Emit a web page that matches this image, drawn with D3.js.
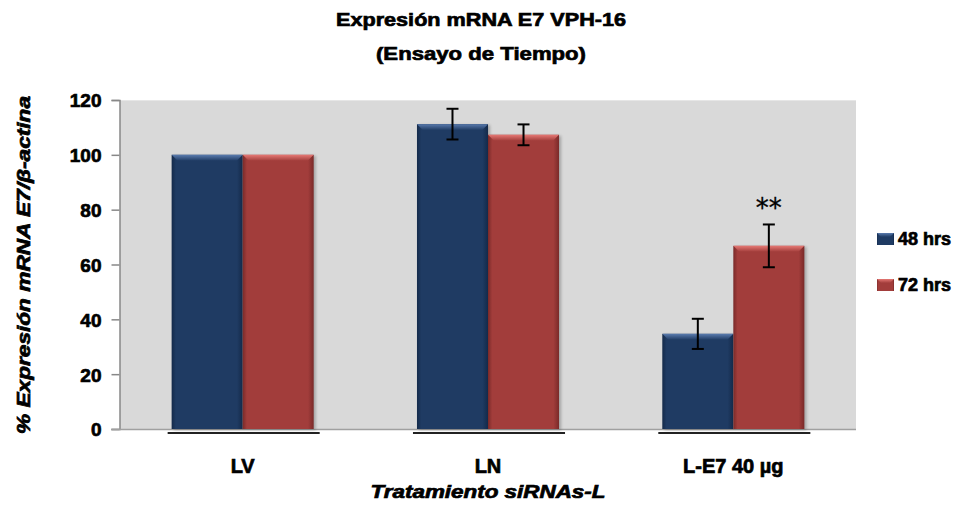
<!DOCTYPE html>
<html><head><meta charset="utf-8">
<script src="https://cdn.jsdelivr.net/npm/d3@7"></script>
<style>html,body{margin:0;padding:0;background:#fff}svg{display:block}
text{stroke:#000;stroke-width:0.7px;paint-order:stroke}</style>
</head><body>
<svg id="chart" width="962" height="514"></svg>
<script>
const categories = ["LV", "LN", "L-E7 40 µg"];
const seriesNames = ["48 hrs", "72 hrs"];
const values48 = [100, 111.2, 34.7];
const values72 = [100, 107.3, 66.8];
const err48 = [0, 5.6, 5.5];
const err72 = [0, 3.8, 7.8];
const yTicks = [0, 20, 40, 60, 80, 100, 120];
const significance = ["", "", "**"];

const colors = {
  "48 hrs": {body: "#1F3B63", light: "#5A7BAE", dark: "#142A4A"},
  "72 hrs": {body: "#A23D3B", light: "#E57874", dark: "#7A2A29"}
};
const font = "'Liberation Sans', Arial, sans-serif";

const svg = d3.select("#chart");
const defs = svg.append("defs");
const plot = {left: 120, right: 856, top: 100, bottom: 429};

const y = d3.scaleLinear().domain([0, 120]).range([plot.bottom, plot.top]);
const x0 = d3.scaleBand().domain(categories).range([plot.left, plot.right])
  .paddingInner(0.421).paddingOuter(0.2105);
const x1 = d3.scaleBand().domain(seriesNames).range([0, x0.bandwidth()]);

seriesNames.forEach((s, i) => {
  const g = defs.append("linearGradient").attr("id", "hg" + i)
    .attr("x1", 0).attr("x2", 1).attr("y1", 0).attr("y2", 0);
  g.append("stop").attr("offset", 0).attr("stop-color", colors[s].dark);
  g.append("stop").attr("offset", 0.06).attr("stop-color", colors[s].body);
  g.append("stop").attr("offset", 0.92).attr("stop-color", colors[s].body);
  g.append("stop").attr("offset", 1).attr("stop-color", colors[s].dark);
  const t = defs.append("linearGradient").attr("id", "tg" + i)
    .attr("x1", 0).attr("x2", 0).attr("y1", 0).attr("y2", 1);
  t.append("stop").attr("offset", 0).attr("stop-color", colors[s].light);
  t.append("stop").attr("offset", 1).attr("stop-color", colors[s].body);
});
const blur = defs.append("filter").attr("id", "shadow").attr("x", -0.2).attr("y", -0.2).attr("width", 1.4).attr("height", 1.4);
blur.append("feGaussianBlur").attr("stdDeviation", 1.5);

// plot background
svg.append("rect").attr("x", plot.left).attr("y", plot.top)
  .attr("width", plot.right - plot.left).attr("height", plot.bottom - plot.top)
  .attr("fill", "#D9D9D9");
svg.append("line").attr("x1", plot.left).attr("x2", plot.right)
  .attr("y1", plot.top + 0.5).attr("y2", plot.top + 0.5).attr("stroke", "#E6E6E6");

// axes
const yAxis = d3.axisLeft(y).tickValues(yTicks).tickSize(8).tickPadding(10).tickFormat(d3.format("d"));
const gy = svg.append("g").attr("transform", `translate(${plot.left - 0.5},0)`).call(yAxis);
gy.select(".domain").attr("stroke", "#888").attr("stroke-width", 1.5);
gy.selectAll(".tick line").attr("stroke", "#888").attr("stroke-width", 1.5);
gy.selectAll(".tick text").attr("font-family", font).attr("font-weight", "bold")
  .attr("font-size", 19).attr("fill", "#000").attr("dy", "0.36em");

svg.append("line").attr("x1", plot.left - 9).attr("x2", plot.right)
  .attr("y1", plot.bottom + 0.5).attr("y2", plot.bottom + 0.5)
  .attr("stroke", "#A0A0A0").attr("stroke-width", 1.5);

// group shadows (dark lines under groups)
svg.append("g").selectAll("rect").data(categories).join("rect")
  .attr("x", d => x0(d) - 4).attr("y", plot.bottom + 3)
  .attr("width", x0.bandwidth() + 10).attr("height", 2)
  .attr("fill", "#222");

// bars
const data = [];
categories.forEach((c, i) => {
  data.push({cat: c, s: seriesNames[0], si: 0, v: values48[i], e: err48[i], sig: ""});
  data.push({cat: c, s: seriesNames[1], si: 1, v: values72[i], e: err72[i], sig: significance[i]});
});

const bars = svg.append("g");
const bw = x1.bandwidth();
const bevel = 6;
bars.selectAll("rect.shadow").data(data).join("rect").attr("class", "shadow")
  .attr("x", d => x0(d.cat) + x1(d.s) + 2).attr("y", d => y(d.v) + 1)
  .attr("width", bw).attr("height", d => y(0) - y(d.v))
  .attr("fill", "#000").attr("opacity", 0.25).attr("filter", "url(#shadow)");
bars.selectAll("rect.bar").data(data).join("rect").attr("class", "bar")
  .attr("x", d => x0(d.cat) + x1(d.s)).attr("y", d => y(d.v))
  .attr("width", bw).attr("height", d => y(0) - y(d.v))
  .attr("fill", d => `url(#hg${d.si})`);
bars.selectAll("path.top").data(data).join("path").attr("class", "top")
  .attr("d", d => {
    const xa = x0(d.cat) + x1(d.s), ya = y(d.v);
    return `M${xa},${ya}H${xa + bw}L${xa + bw - bevel},${ya + bevel}H${xa + bevel}Z`;
  })
  .attr("fill", d => `url(#tg${d.si})`);

// error bars
const eb = svg.append("g").attr("stroke", "#000").attr("stroke-width", 2);
const withErr = data.filter(d => d.e > 0);
const cx = d => x0(d.cat) + x1(d.s) + bw / 2;
eb.selectAll("line.v").data(withErr).join("line")
  .attr("x1", cx).attr("x2", cx).attr("y1", d => y(d.v + d.e)).attr("y2", d => y(d.v - d.e));
eb.selectAll("line.t").data(withErr).join("line")
  .attr("x1", d => cx(d) - 6).attr("x2", d => cx(d) + 6).attr("y1", d => y(d.v + d.e)).attr("y2", d => y(d.v + d.e));
eb.selectAll("line.b").data(withErr).join("line")
  .attr("x1", d => cx(d) - 6).attr("x2", d => cx(d) + 6).attr("y1", d => y(d.v - d.e)).attr("y2", d => y(d.v - d.e));

// significance
svg.append("g").selectAll("text").data(data.filter(d => d.sig)).join("text")
  .attr("x", cx).attr("y", d => y(d.v + d.e) - 7)
  .attr("text-anchor", "middle").attr("font-family", "'DejaVu Sans', sans-serif")
  .attr("font-size", 26).attr("fill", "#000").style("stroke-width", "0.3px").text(d => d.sig);

// x labels
svg.append("g").selectAll("text").data(categories).join("text")
  .attr("x", d => x0(d) + x0.bandwidth() / 2).attr("y", 473)
  .attr("text-anchor", "middle").attr("font-family", font).attr("font-weight", "bold")
  .attr("font-size", 20).text(d => d);

// titles
svg.append("text").attr("x", 481).attr("y", 26).attr("text-anchor", "middle")
  .attr("font-family", font).attr("font-weight", "bold").attr("font-size", 19)
  .attr("textLength", 290).attr("lengthAdjust", "spacingAndGlyphs")
  .text("Expresión mRNA E7 VPH-16");
svg.append("text").attr("x", 481).attr("y", 60).attr("text-anchor", "middle")
  .attr("font-family", font).attr("font-weight", "bold").attr("font-size", 19)
  .attr("textLength", 210).attr("lengthAdjust", "spacingAndGlyphs")
  .text("(Ensayo de Tiempo)");
svg.append("text").attr("x", 488).attr("y", 498).attr("text-anchor", "middle")
  .attr("font-family", font).attr("font-weight", "bold").attr("font-style", "italic").attr("font-size", 18)
  .attr("textLength", 235).attr("lengthAdjust", "spacingAndGlyphs")
  .text("Tratamiento siRNAs-L");
svg.append("text").attr("transform", "translate(30,265) rotate(-90)").attr("text-anchor", "middle")
  .attr("font-family", font).attr("font-weight", "bold").attr("font-style", "italic").attr("font-size", 18)
  .attr("textLength", 338).attr("lengthAdjust", "spacingAndGlyphs")
  .text("% Expresión mRNA E7/β-actina");

// legend
const lg = svg.append("g").selectAll("g").data(seriesNames).join("g")
  .attr("transform", (d, i) => `translate(877,${233 + i * 46})`);
lg.append("rect").attr("width", 17).attr("height", 12).attr("fill", (d, i) => `url(#hg${i})`);
lg.append("path").attr("d", "M0,0H17L13,4H4Z").attr("fill", (d, i) => `url(#tg${i})`);
lg.append("text").attr("x", 21).attr("y", 12).attr("font-family", font).attr("font-weight", "bold")
  .attr("font-size", 18).text(d => d);
</script>
</body></html>
